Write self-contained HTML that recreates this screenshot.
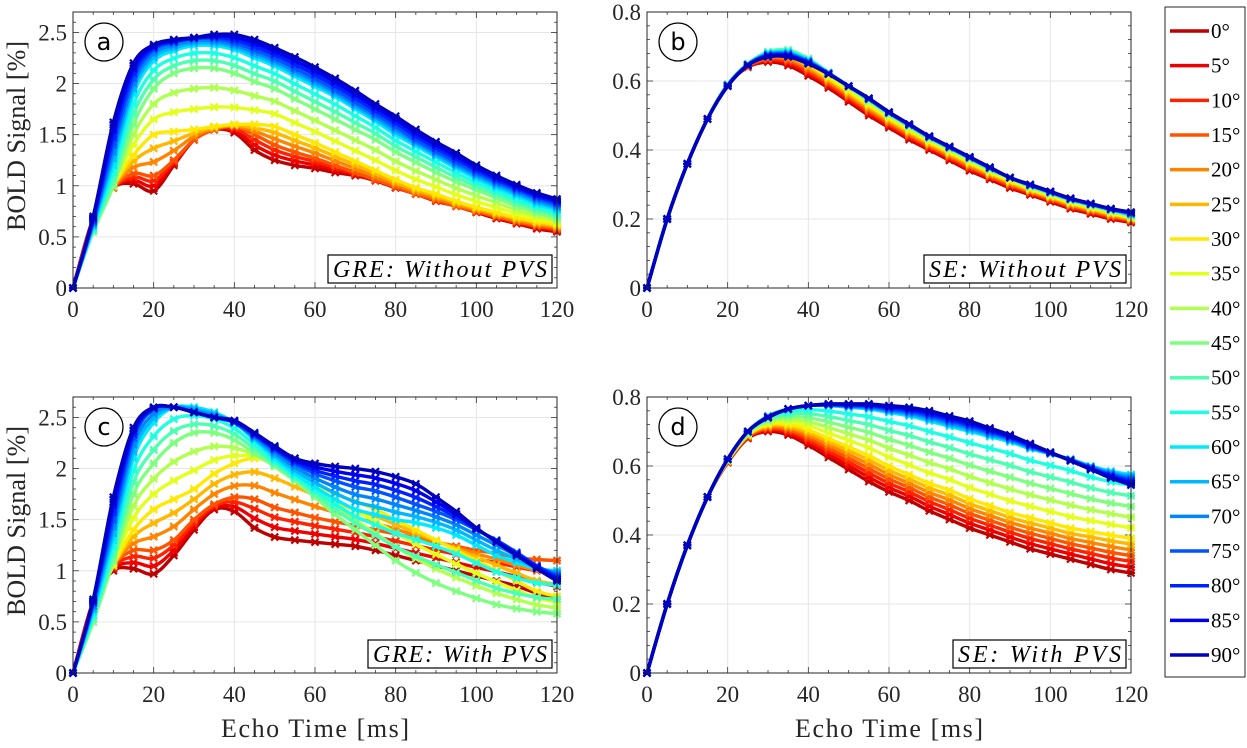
<!DOCTYPE html>
<html><head><meta charset="utf-8"><style>
body{margin:0;background:#fff;width:1247px;height:743px;overflow:hidden}
svg{font-family:"Liberation Serif",serif}
</style></head><body>
<svg id="fig" width="1247" height="743" xmlns="http://www.w3.org/2000/svg"></svg>
<script>
const times=[0,5,10,15,20,25,30,35,40,45,50,55,60,65,70,75,80,85,90,95,100,105,110,115,120];
const angles=[0,5,10,15,20,25,30,35,40,45,50,55,60,65,70,75,80,85,90];
const xTicks=[0,20,40,60,80,100,120];
const yTicksGRE=[0,0.5,1,1.5,2,2.5];
const yTicksSE=[0,0.2,0.4,0.6,0.8];
// Panel a anchors
const aAngles=[0,15,30,45,60,75,90];
const a0=[0,0.68,0.98,1.02,0.95,1.2,1.45,1.55,1.52,1.35,1.25,1.2,1.17,1.13,1.1,1.05,0.98,0.92,0.85,0.8,0.74,0.68,0.63,0.58,0.55];
const a15=[0,0.65,0.98,1.12,1.1,1.25,1.45,1.55,1.58,1.5,1.4,1.33,1.27,1.2,1.13,1.06,0.99,0.92,0.86,0.8,0.75,0.7,0.65,0.61,0.58];
const a30=[0,0.62,1.0,1.3,1.5,1.53,1.55,1.58,1.6,1.6,1.58,1.5,1.42,1.33,1.24,1.15,1.06,0.98,0.92,0.85,0.79,0.74,0.69,0.65,0.62];
const a45=[0,0.55,1.0,1.6,1.95,2.1,2.15,2.15,2.1,2.02,1.95,1.85,1.75,1.65,1.55,1.45,1.33,1.23,1.13,1.04,0.96,0.88,0.8,0.74,0.68];
const a60=[0,0.6,1.2,1.9,2.22,2.32,2.37,2.37,2.33,2.25,2.17,2.07,1.97,1.87,1.75,1.63,1.5,1.39,1.28,1.17,1.07,0.98,0.9,0.82,0.76];
const a75=[0,0.65,1.4,2.05,2.33,2.4,2.44,2.44,2.4,2.33,2.25,2.15,2.05,1.94,1.82,1.7,1.58,1.45,1.34,1.23,1.13,1.04,0.96,0.88,0.82];
const a90=[0,0.7,1.62,2.2,2.38,2.43,2.45,2.48,2.48,2.43,2.35,2.26,2.16,2.05,1.93,1.8,1.68,1.55,1.43,1.32,1.2,1.1,1.01,0.93,0.87];
// Panel b anchors
const bAngles=[0,45,90];
const b0=[0,0.2,0.36,0.49,0.59,0.64,0.655,0.645,0.615,0.58,0.54,0.5,0.465,0.43,0.4,0.37,0.34,0.315,0.29,0.27,0.25,0.23,0.215,0.2,0.19];
const b45=[0,0.2,0.36,0.49,0.59,0.65,0.685,0.69,0.665,0.625,0.585,0.545,0.505,0.47,0.435,0.405,0.375,0.345,0.32,0.295,0.275,0.255,0.24,0.225,0.21];
const b90=[0,0.2,0.36,0.49,0.585,0.645,0.67,0.67,0.65,0.62,0.585,0.55,0.51,0.475,0.44,0.41,0.38,0.35,0.32,0.3,0.28,0.26,0.245,0.23,0.22];
// Panel c anchors
const cAngles=[0,15,30,45,60,75,90];
const c0=[0,0.7,1.0,1.02,0.97,1.15,1.4,1.6,1.58,1.42,1.33,1.3,1.28,1.26,1.24,1.2,1.15,1.1,1.05,1.0,0.95,0.9,0.85,0.78,0.72];
const c15=[0,0.65,1.05,1.2,1.2,1.3,1.5,1.65,1.72,1.7,1.62,1.57,1.52,1.48,1.44,1.4,1.36,1.32,1.28,1.24,1.2,1.17,1.13,1.11,1.1];
const c30=[0,0.6,1.05,1.4,1.6,1.7,1.8,1.95,2.05,2.1,2.05,1.95,1.85,1.75,1.68,1.6,1.5,1.4,1.3,1.2,1.1,1.0,0.9,0.8,0.75];
const c45=[0,0.5,1.1,1.75,2.05,2.25,2.35,2.35,2.28,2.15,2.02,1.88,1.72,1.55,1.4,1.25,1.1,0.98,0.88,0.8,0.73,0.67,0.63,0.6,0.58];
const c60=[0,0.6,1.3,2.1,2.45,2.6,2.6,2.55,2.45,2.28,2.1,1.95,1.82,1.7,1.6,1.55,1.5,1.47,1.42,1.35,1.25,1.15,1.08,1.02,1.0];
const c75=[0,0.68,1.5,2.3,2.58,2.6,2.55,2.5,2.45,2.32,2.18,2.05,1.95,1.88,1.82,1.78,1.72,1.65,1.58,1.5,1.4,1.3,1.18,1.05,0.95];
const c90=[0,0.72,1.72,2.4,2.6,2.6,2.55,2.5,2.47,2.35,2.22,2.1,2.05,2.02,2.0,1.97,1.92,1.85,1.72,1.58,1.42,1.28,1.15,1.02,0.9];
// Panel d anchors
const dAngles=[0,30,60,90];
const d0=[0,0.2,0.37,0.51,0.61,0.68,0.7,0.69,0.66,0.625,0.59,0.555,0.525,0.5,0.47,0.445,0.42,0.4,0.38,0.36,0.345,0.33,0.315,0.3,0.29];
const d30=[0,0.2,0.37,0.51,0.615,0.69,0.72,0.72,0.705,0.68,0.655,0.63,0.6,0.575,0.55,0.53,0.505,0.485,0.465,0.45,0.435,0.42,0.41,0.4,0.39];
const d60=[0,0.2,0.37,0.51,0.62,0.7,0.745,0.765,0.775,0.775,0.77,0.765,0.755,0.745,0.73,0.715,0.7,0.685,0.67,0.65,0.635,0.62,0.6,0.585,0.575];
const d90=[0,0.2,0.37,0.51,0.62,0.7,0.74,0.765,0.775,0.78,0.78,0.78,0.775,0.77,0.76,0.745,0.73,0.71,0.69,0.665,0.64,0.615,0.59,0.565,0.545];

const NS="http://www.w3.org/2000/svg";
const svg=document.getElementById('fig');
function mk(tag,attrs,parent){const e=document.createElementNS(NS,tag);for(const k in attrs)e.setAttribute(k,attrs[k]);(parent||svg).appendChild(e);return e;}
function jet(t){const r=Math.min(Math.max(Math.min(4*t-1.5,-4*t+4.5),0),1);const g=Math.min(Math.max(Math.min(4*t-0.5,-4*t+3.5),0),1);const b=Math.min(Math.max(Math.min(4*t+0.5,-4*t+2.5),0),1);return `rgb(${Math.round(r*255)},${Math.round(g*255)},${Math.round(b*255)})`;}
function colorFor(i){return jet(0.94-0.88*i/18);}
function blend(ang,anchAng,anch,k){for(let j=0;j<anchAng.length-1;j++){if(ang<=anchAng[j+1]){const f=(ang-anchAng[j])/(anchAng[j+1]-anchAng[j]);return anch[j][k]*(1-f)+anch[j+1][k]*f;}}return anch[anch.length-1][k];}
function spline(pts){let d=`M${pts[0][0]},${pts[0][1]}`;for(let i=0;i<pts.length-1;i++){const p0=pts[Math.max(i-1,0)],p1=pts[i],p2=pts[i+1],p3=pts[Math.min(i+2,pts.length-1)];const c1x=p1[0]+(p2[0]-p0[0])/6,c1y=p1[1]+(p2[1]-p0[1])/6,c2x=p2[0]-(p3[0]-p1[0])/6,c2y=p2[1]-(p3[1]-p1[1])/6;d+=` C${c1x.toFixed(1)},${c1y.toFixed(1)} ${c2x.toFixed(1)},${c2y.toFixed(1)} ${p2[0].toFixed(1)},${p2[1].toFixed(1)}`;}return d;}

function panel(cfg){
  const {id,L,T,W,H,ymax,yTicks,yFmt,anchAng,anch,letter,boxText,boxW,showX,showY}=cfg;
  const g=mk('g',{});
  
  
  const xs=v=>L+v/120*W, ys=v=>T+H-v/ymax*H;
  xTicks.forEach(v=>{const l=mk('line',{x1:xs(v),x2:xs(v),y1:T,y2:T+H,stroke:'#e6e6e6','stroke-width':1},g);});
  yTicks.forEach(v=>{const l=mk('line',{x1:L,x2:L+W,y1:ys(v),y2:ys(v),stroke:'#e6e6e6','stroke-width':1},g);});
  for(let v=0;v<=120;v+=5){const len=(v%20===0)?6:3;mk('line',{x1:xs(v),x2:xs(v),y1:T+H,y2:T+H-len,stroke:'#333','stroke-width':0.8},g);mk('line',{x1:xs(v),x2:xs(v),y1:T,y2:T+len,stroke:'#333','stroke-width':0.8},g);}
  const step=yTicks[1]-yTicks[0];
  for(let k=0;k*step/5<=ymax+1e-9;k++){const v=k*step/5;const len=(k%5===0)?6:3;mk('line',{x1:L,x2:L+len,y1:ys(v),y2:ys(v),stroke:'#333','stroke-width':0.8},g);mk('line',{x1:L+W,x2:L+W-len,y1:ys(v),y2:ys(v),stroke:'#333','stroke-width':0.8},g);}
  const clip=mk('clipPath',{id:'clip'+id},g);mk('rect',{x:L-8,y:T-2,width:W+16,height:H+12},clip);
  const sg=mk('g',{'clip-path':`url(#clip${id})`},g);
  angles.forEach((ang,i)=>{
    const col=colorFor(i);
    const pts=times.map((t,k)=>[xs(t),ys(blend(ang,anchAng,anch,k))]);
    const p=mk('path',{d:spline(pts),fill:'none',stroke:col,'stroke-width':3.4,'stroke-linejoin':'round'},sg);
    
    
    let md='';pts.forEach(([x,y])=>{md+=`M${x-3.5},${y-3.5}L${x+3.5},${y+3.5}M${x-3.5},${y+3.5}L${x+3.5},${y-3.5}M${x-4},${y}L${x+4},${y}`;});
    const m=mk('path',{d:md,stroke:col,'stroke-width':2.2,fill:'none'},sg);
    
    
  });
  const fr=mk('rect',{x:L,y:T,width:W,height:H,fill:'none',stroke:'#262626','stroke-width':1},g);
  
  xTicks.forEach(v=>{const t=mk('text',{x:xs(v),y:T+H+29,'text-anchor':'middle','font-size':23,fill:'#262626'},g);t.textContent=v;});
  yTicks.forEach(v=>{const t=mk('text',{x:L-6,y:ys(v)+8,'text-anchor':'end','font-size':23,fill:'#262626'},g);t.textContent=yFmt(v);});
  const c=mk('circle',{cx:L+31,cy:T+30,r:19,fill:'#fff',stroke:'#000','stroke-width':1.3},g);
  const lt=mk('text',{x:L+31,y:T+38,'text-anchor':'middle','font-size':24,'font-family':'"DejaVu Sans",sans-serif',fill:'#000'},g);lt.textContent=letter;
  const bx=L+W-5-boxW, by=T+H-33;
  const br=mk('rect',{x:bx,y:by,width:boxW,height:28,fill:'#fff',stroke:'#000','stroke-width':1.2},g);
  const bt=mk('text',{x:bx+boxW/2,y:by+22,'text-anchor':'middle','font-size':24,'font-style':'italic',fill:'#000','textLength':boxW-10},g);bt.textContent=boxText;
  if(showX){const xl=mk('text',{x:L+W/2,y:T+H+64,'text-anchor':'middle','font-size':26,fill:'#262626','textLength':188},g);xl.textContent='Echo Time [ms]';}
  if(showY){const yl=mk('text',{x:0,y:0,'text-anchor':'middle','font-size':26,fill:'#262626','textLength':190,transform:`translate(25,${T+H/2-14}) rotate(-90)`},g);yl.textContent='BOLD Signal [%]';}
}
const fG=v=>String(v), fS=v=>String(v);
panel({id:'a',L:73,T:12,W:484,H:276,ymax:2.7,yTicks:yTicksGRE,yFmt:fG,anchAng:aAngles,anch:[a0,a15,a30,a45,a60,a75,a90],letter:'a',boxText:'GRE: Without PVS',boxW:224,showX:false,showY:true});
panel({id:'b',L:647,T:12,W:484,H:276,ymax:0.8,yTicks:yTicksSE,yFmt:fS,anchAng:bAngles,anch:[b0,b45,b90],letter:'b',boxText:'SE: Without PVS',boxW:202,showX:false,showY:false});
panel({id:'c',L:73,T:397,W:484,H:276,ymax:2.7,yTicks:yTicksGRE,yFmt:fG,anchAng:cAngles,anch:[c0,c15,c30,c45,c60,c75,c90],letter:'c',boxText:'GRE: With PVS',boxW:184,showX:true,showY:true});
panel({id:'d',L:647,T:397,W:484,H:276,ymax:0.8,yTicks:yTicksSE,yFmt:fS,anchAng:dAngles,anch:[d0,d30,d60,d90],letter:'d',boxText:'SE: With PVS',boxW:173,showX:true,showY:false});
const lg=mk('g',{});


const lb=mk('rect',{x:1165,y:7,width:80,height:670,fill:'#fff',stroke:'#262626','stroke-width':1},lg);


angles.forEach((ang,i)=>{
  const y=31+i*34.67;
  const l=mk('line',{x1:1170,x2:1209,y1:y,y2:y,stroke:colorFor(i),'stroke-width':3.5},lg);
  
  
  const t=mk('text',{x:1211,y:y+7,'text-anchor':'start','font-size':21,fill:'#000'},lg);
  t.textContent=ang+'°';
  
  
});
</script>
</body></html>
